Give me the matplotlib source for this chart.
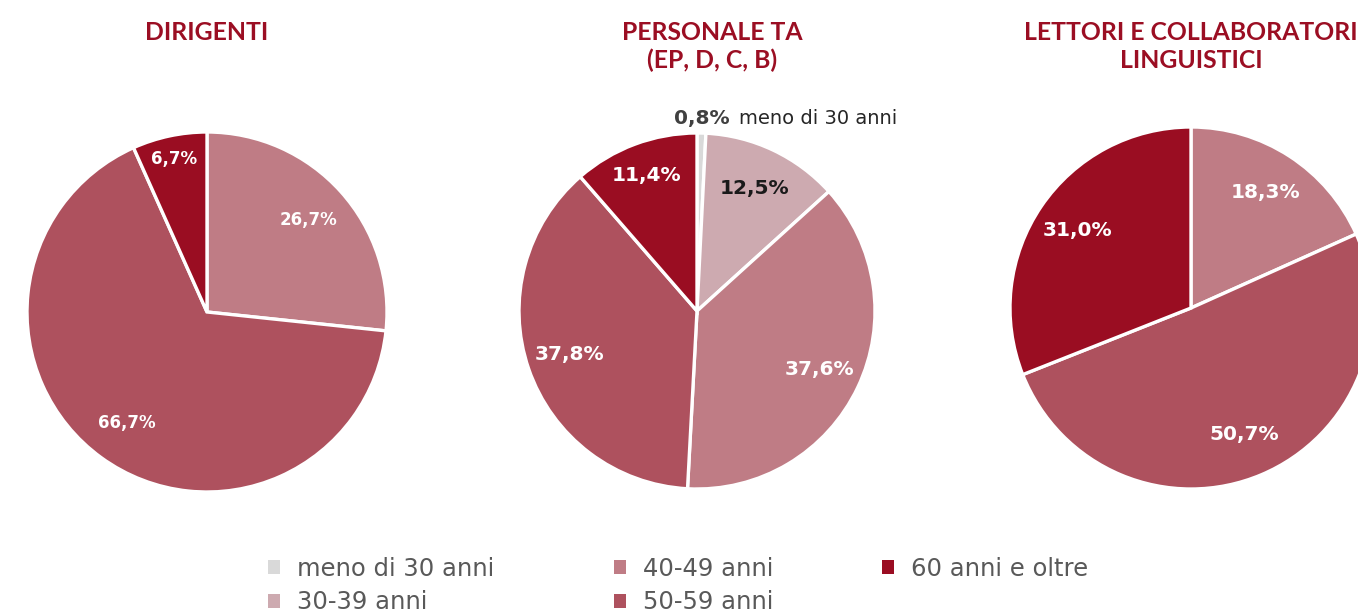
import matplotlib
matplotlib.use("Agg")
import matplotlib.pyplot as plt
from matplotlib.patches import Patch
import numpy as np

plt.rcParams['font.family'] = ['DejaVu Sans']

categories = ["meno di 30 anni", "30-39 anni", "40-49 anni", "50-59 anni", "60 anni e oltre"]
legend_labels = ["meno di 30 anni", "30-39 anni", "40-49 anni", "50-59 anni", "60 anni e oltre"]
colors = ["#d9d9d9", "#cdaab0", "#bf7c85", "#ae515e", "#9a0d22"]

titles = ["DIRIGENTI", "PERSONALE TA\n(EP, D, C, B)", "LETTORI E COLLABORATORI\nLINGUISTICI"]
dirigenti = [0.0, 0.0, 26.7, 66.7, 6.7]
personale_ta = [0.8, 12.5, 37.6, 37.8, 11.4]
lettori = [0.0, 0.0, 18.3, 50.7, 31.0]

title_color = "#9b0e23"

fig = plt.figure(figsize=(13.58, 6.14), dpi=100)

# axes boxes in pixels: (left, top, size)
boxes = [(27, 132, 360), (519, 133, 356), (1010, 127, 362)]
title_x = [207, 712, 1191]
label_sizes = [12, 14.5, 14.5]
series = [dirigenti, personale_ta, lettori]

W, H = 1358, 614
for i, (vals, (lx, ty, sz)) in enumerate(zip(series, boxes)):
    ax = fig.add_axes([lx / W, (H - ty - sz) / H, sz / W, sz / H])
    idx = [k for k, v in enumerate(vals) if v > 0]
    v = [vals[k] for k in idx]
    c = [colors[k] for k in idx]
    wedges, _ = ax.pie(v, colors=c, startangle=90, counterclock=False,
                       wedgeprops=dict(edgecolor="white", linewidth=2.4),
                       radius=1.0)
    ax.set_xlim(-1, 1)
    ax.set_ylim(-1, 1)
    ax.set_aspect("equal")
    ax.axis("off")
    for w, k, val in zip(wedges, idx, v):
        mid = np.deg2rad((w.theta1 + w.theta2) / 2)
        txt = f"{val:.1f}%".replace(".", ",")
        if val < 2:
            d = 1.08
            x, y = d * np.cos(mid), d * np.sin(mid)
            ax.text(x, y, txt, ha="center", va="center", fontsize=14.5,
                    fontweight="bold", color="#404040", clip_on=False)
            ax.annotate(categories[k], xy=(x, y), xytext=(27, 0),
                        textcoords="offset points", ha="left", va="center",
                        fontsize=14, color="#262626", annotation_clip=False)
            continue
        if val < 7:
            d = 0.87
        elif val < 12:
            d = 0.81
        else:
            d = 0.76
        col = "#1a1a1a" if k == 1 else "white"
        ax.text(d * np.cos(mid), d * np.sin(mid), txt, ha="center", va="center",
                fontsize=label_sizes[i], fontweight="bold", color=col)

for t, x in zip(titles, title_x):
    fig.text(x / W, 1 - 21 / H, t, ha="center", va="top", fontsize=17.8,
             fontweight="bold", color=title_color, linespacing=1.25,
             family=["Lato", "DejaVu Sans"])

# legend: three columns placed at the reference column positions
handles = [Patch(facecolor=c, edgecolor="none") for c in colors]
col_groups = [[0, 1], [2, 3], [4]]
col_x = [268, 614, 882]
for grp, cx in zip(col_groups, col_x):
    leg = fig.legend([handles[g] for g in grp], [legend_labels[g] for g in grp],
                     ncol=1, loc="upper left",
                     bbox_to_anchor=(cx / W, 1 - 557 / H), frameon=False,
                     fontsize=17.5, handlelength=0.5, handleheight=0.5,
                     handletextpad=0.7, labelspacing=0.38,
                     borderaxespad=0, borderpad=0)
    for t in leg.get_texts():
        t.set_color("#595959")

fig.savefig("out.png", dpi=100)
